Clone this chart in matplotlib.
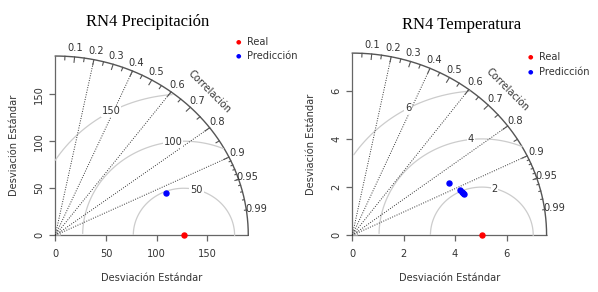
import matplotlib.pyplot as plt
import numpy as np
from matplotlib.markers import TICKDOWN, TICKLEFT

W, H = 598, 292

# RN4 Precipitación
prec_sd_real = 127.0
prec_sd_pred = [117.8]
prec_cor_pred = [0.925]
prec_ticks = [0, 50, 100, 150]

# RN4 Temperatura
temp_sd_real = 5.04
temp_sd_pred = [4.35, 4.59, 4.62, 4.64, 4.67]
temp_cor_pred = [0.865, 0.914, 0.921, 0.926, 0.931]
temp_ticks = [0, 2, 4, 6]

cor_labels = [0.1, 0.2, 0.3, 0.4, 0.5, 0.6, 0.7, 0.8, 0.9, 0.95, 0.99]
cor_lines = [0.2, 0.4, 0.6, 0.8, 0.9]

TXT = '#333333'
FS = 7.1

fig = plt.figure(figsize=(W / 100, H / 100), dpi=100)


def make_ax(x0, y0, sx, sy, left, right, top, bottom):
    ax = fig.add_axes([left / W, 1 - bottom / H, (right - left) / W, (bottom - top) / H])
    ax.set_xlim((left - x0) / sx, (right - x0) / sx)
    ax.set_ylim((y0 - bottom) / sy, (y0 - top) / sy)
    ax.axis('off')
    return ax


def taylor(ax, sd_r, sd_f, cor_f, ticks, gammas, legend_xy):
    maxsd = 1.5 * max(sd_r, max(sd_f))

    # ejes
    ax.plot([0, maxsd], [0, 0], color='#666666', lw=0.9, solid_capstyle='butt')
    ax.plot([0, 0], [0, maxsd], color='#666666', lw=0.9, solid_capstyle='butt')
    ax.plot(ticks, np.zeros(len(ticks)), ls='none', marker=TICKDOWN, ms=4, mew=0.9, color='#666666')
    ax.plot(np.zeros(len(ticks)), ticks, ls='none', marker=TICKLEFT, ms=4, mew=0.9, color='#666666')
    for t in ticks:
        ax.annotate(str(t), (t, 0), xytext=(0, -13.5), textcoords='offset points',
                    ha='center', va='center', fontsize=FS, color=TXT)
        ax.annotate(str(t), (0, t), xytext=(-11.5, 0), textcoords='offset points',
                    ha='center', va='center', fontsize=FS, color=TXT, rotation=90)
    ax.annotate('Desviación Estándar', (maxsd / 2, 0), xytext=(0, -30.5), textcoords='offset points',
                ha='center', va='center', fontsize=FS, color=TXT)
    ax.annotate('Desviación Estándar', (0, maxsd / 2), xytext=(-29.5, 0), textcoords='offset points',
                ha='center', va='center', fontsize=FS, color=TXT, rotation=90)

    # arco exterior
    th = np.linspace(0, np.pi / 2, 200)
    ax.plot(maxsd * np.cos(th), maxsd * np.sin(th), color='#555555', lw=1.0)

    # circulos RMS centrados
    ang = np.arange(0, np.pi, 0.03)
    pos = np.linspace(45, 70, len(gammas)).astype(int) - 1
    for g, p in zip(gammas, pos):
        xc = np.cos(ang) * g + sd_r
        yc = np.sin(ang) * g
        ok = (xc >= 0) & (xc ** 2 + yc ** 2 <= maxsd ** 2)
        ax.plot(np.where(ok, xc, np.nan), np.where(ok, yc, np.nan), color='#cccccc', lw=0.9)
        ax.text(xc[p], yc[p], str(g), ha='center', va='center', fontsize=FS, color=TXT,
                bbox=dict(facecolor='white', edgecolor='none', pad=0.6))

    # lineas de correlacion
    for c in cor_lines:
        ax.plot([0, maxsd * c], [0, maxsd * np.sqrt(1 - c ** 2)], color='#333333', lw=0.7, ls=(0, (1, 1.5)))

    big = np.arccos(np.arange(0.1, 0.95, 0.1))
    med = np.arccos(np.arange(0.05, 0.96, 0.1))
    sml = np.arccos(np.arange(0.91, 0.995, 0.01))
    for a_set, f in [(big, 0.97), (med, 0.98), (sml, 0.99)]:
        for a in a_set:
            ax.plot([np.cos(a) * maxsd, np.cos(a) * f * maxsd], [np.sin(a) * maxsd, np.sin(a) * f * maxsd],
                    color='#555555', lw=0.8)
    for c in cor_labels:
        a = np.arccos(c)
        ax.text(np.cos(a) * 1.05 * maxsd, np.sin(a) * 1.05 * maxsd, str(c), ha='center', va='center',
                fontsize=FS, color=TXT)
    ax.text(maxsd * 0.8, maxsd * 0.8, 'Correlación', rotation=-45, ha='center', va='center',
            fontsize=FS, color=TXT, rotation_mode='anchor')

    ax.plot([maxsd * 0.012], [maxsd * 0.012], ls='none', marker='s', ms=3, mfc='none', mec='#aaaaaa', mew=0.6)

    # puntos
    ax.plot([sd_r], [0], 'o', color='red', ms=3.6, clip_on=False)
    sdf = np.array(sd_f)
    cf = np.array(cor_f)
    ax.plot(sdf * cf, sdf * np.sqrt(1 - cf ** 2), 'o', color='blue', ms=3.6, ls='none')

    # leyenda
    lx, ly = legend_xy
    for i, (lab, col) in enumerate([('Real', 'red'), ('Predicción', 'blue')]):
        fig.text((lx) / W, 1 - (ly + i * 14.3) / H, '\u25cf', color=col, fontsize=4.5, ha='center', va='center')
        fig.text((lx + 9) / W, 1 - (ly + i * 14.3) / H, lab, color=TXT, fontsize=FS, ha='left', va='center')


ax1 = make_ax(55.3, 235.3, 1.013, 0.941, 40, 280, 35, 250)
taylor(ax1, prec_sd_real, prec_sd_pred, prec_cor_pred, prec_ticks, [50, 100, 150], (238, 41.7))

ax2 = make_ax(352.3, 235.3, 25.7, 24.1, 340, 590, 35, 250)
taylor(ax2, temp_sd_real, temp_sd_pred, temp_cor_pred, temp_ticks, [2, 4, 6], (530, 57.3))

fig.text(148 / W, 1 - 21.7 / H, 'RN4 Precipitación', fontfamily='Liberation Serif', fontsize=12,
         ha='center', va='center', color='black')
fig.text(461.7 / W, 1 - 25 / H, 'RN4 Temperatura', fontfamily='Liberation Serif', fontsize=12,
         ha='center', va='center', color='black')

fig.savefig('out.png', dpi=100, facecolor='white')
